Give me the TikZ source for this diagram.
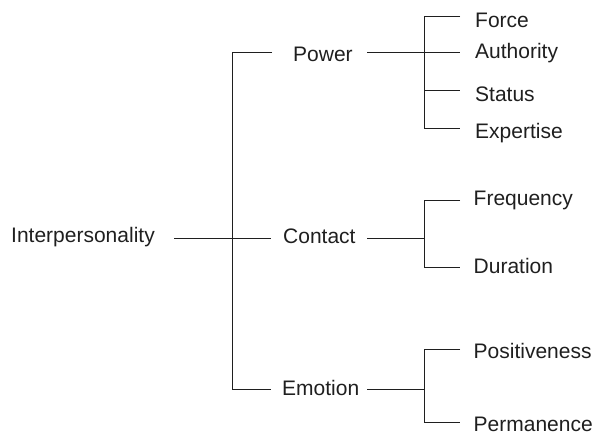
\documentclass[tikz,border=0pt]{standalone}
\usepackage{fontspec}
\setmainfont{Liberation Sans}
\begin{document}
\begin{tikzpicture}[x=1pt,y=-1pt,
  term/.style={anchor=base west,inner sep=0pt,font=\fontsize{21}{25}\selectfont,text=black!88},
  link/.style={draw=black!88,line width=0.9pt}]
\useasboundingbox (0,0) rectangle (594,432);

% terms
\node[term] (root)  at (11,242.5) {Interpersonality};
\node[term] (power)   at (293,61.5)  {Power};
\node[term] (contact) at (283,243.3) {Contact};
\node[term] (emotion) at (282,395)   {Emotion};
\node[term] (force)     at (475,27.3)  {Force};
\node[term] (authority) at (475,58.3)  {Authority};
\node[term] (status)    at (475,101)   {Status};
\node[term] (expertise) at (475,138.3) {Expertise};
\node[term] (frequency) at (473.5,205)   {Frequency};
\node[term] (duration)  at (473.5,273.3) {Duration};
\node[term] (positive)  at (473.5,358.3) {Positiveness};
\node[term,text depth=0pt] (permanent) at (473.5,431.2) {Permanence};

% connector end points
\coordinate (root-out) at (174,238.3);
\coordinate (trunk-top) at (232,52.5);
\coordinate (trunk-bot) at (232,389.3);
\coordinate (power-in) at (272,52.5);
\coordinate (contact-in) at (271,238.3);
\coordinate (emotion-in) at (271,389.3);
\coordinate (power-out) at (367,52.5);
\coordinate (contact-out) at (367,238.3);
\coordinate (emotion-out) at (367,389.3);
\coordinate (pj) at (424,52.5);
\coordinate (cj) at (424,238.3);
\coordinate (ej) at (424,389.3);
\coordinate (force-in) at (460,16.7);
\coordinate (authority-in) at (460,52.5);
\coordinate (status-in) at (460,90);
\coordinate (expertise-in) at (460,128.3);
\coordinate (frequency-in) at (460,200);
\coordinate (duration-in) at (460,267.3);
\coordinate (positive-in) at (460,349.3);
\coordinate (permanent-in) at (460,422.3);

% first level
\draw[link] (root-out) -- (contact-in);
\draw[link] (power-in) -- (trunk-top) -- (trunk-bot) -- (emotion-in);

% Power branch
\draw[link] (power-out) -- (pj);
\draw[link] (force-in) -- (pj |- force-in) -- (pj |- expertise-in) -- (expertise-in);
\draw[link] (pj) -- (authority-in);
\draw[link] (pj |- status-in) -- (status-in);

% Contact branch
\draw[link] (contact-out) -- (cj);
\draw[link] (frequency-in) -- (cj |- frequency-in) -- (cj |- duration-in) -- (duration-in);

% Emotion branch
\draw[link] (emotion-out) -- (ej);
\draw[link] (positive-in) -- (ej |- positive-in) -- (ej |- permanent-in) -- (permanent-in);
\end{tikzpicture}
\end{document}
